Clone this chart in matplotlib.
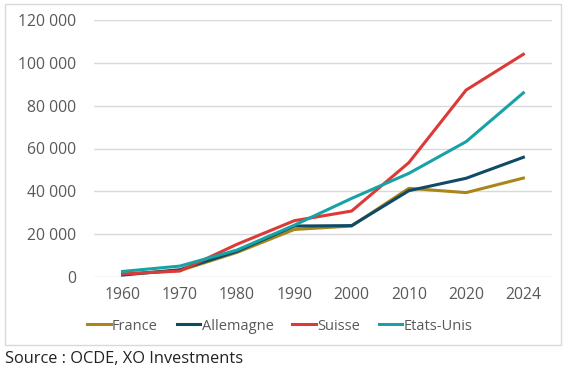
import matplotlib.pyplot as plt
from matplotlib.ticker import FuncFormatter
from matplotlib.patches import Rectangle

plt.rcParams['font.family'] = ['Open Sans', 'DejaVu Sans']

# Données
annees = ['1960', '1970', '1980', '1990', '2000', '2010', '2020', '2024']
france = [1300, 3000, 11500, 22200, 23800, 41400, 39400, 46200]
allemagne = [900, 3400, 12000, 23800, 24000, 40300, 46100, 55900]
suisse = [1400, 2800, 15300, 26300, 30800, 53400, 87300, 104000]
etats_unis = [2600, 5100, 12600, 24200, 36700, 48400, 63200, 86000]

series = [
    ('France', france, '#A8861A'),
    ('Allemagne', allemagne, '#0F4A66'),
    ('Suisse', suisse, '#DC3A36'),
    ('Etats-Unis', etats_unis, '#17A2A6'),
]

fig = plt.figure(figsize=(5.67, 3.71), dpi=100)
ax = fig.add_axes([94 / 567, 1 - 277 / 371, (552 - 94) / 567, (277 - 20) / 371])

x = range(len(annees))
for nom, vals, couleur in series:
    ax.plot(x, vals, color=couleur, linewidth=2.2, label=nom)

ax.set_ylim(0, 120000)
ax.set_yticks(range(0, 120001, 20000))
ax.yaxis.set_major_formatter(FuncFormatter(lambda v, p: f'{int(v):,}'.replace(',', ' ')))
ax.set_xlim(-0.5, len(annees) - 0.5)
ax.set_xticks(list(x))
ax.set_xticklabels(annees)
ax.grid(axis='y', color='#D9D9D9', linewidth=1)
ax.set_axisbelow(True)
for s in ax.spines.values():
    s.set_visible(False)
ax.tick_params(length=0, labelsize=11.3, colors='#595959', pad=7)
ax.tick_params(axis='y', pad=13)

leg = fig.legend(loc='center', bbox_to_anchor=(280 / 567, 1 - 326 / 371), ncol=4,
                 frameon=False, fontsize=10.5, handlelength=1.6, handletextpad=0.1,
                 columnspacing=1.3)
for t in leg.get_texts():
    t.set_color('#595959')

fig.patches.append(Rectangle((5 / 567, 1 - 345 / 371), 556 / 567, 341 / 371,
                             transform=fig.transFigure, fill=False,
                             edgecolor='#D9D9D9', linewidth=1))

fig.text(5 / 567, 1 - 359 / 371, 'Source : OCDE, XO Investments', fontsize=11.8,
         color='#222222', va='center', ha='left')

fig.savefig('out.png', dpi=100)
